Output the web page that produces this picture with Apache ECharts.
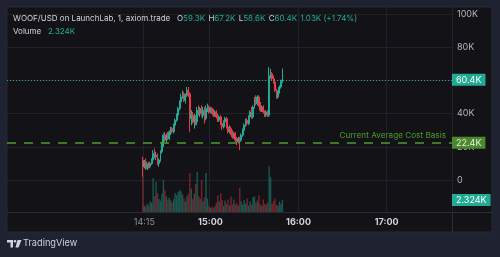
<!DOCTYPE html>
<html><head><meta charset="utf-8">
<script src="https://cdn.jsdelivr.net/npm/echarts@6/dist/echarts.min.js"></script>
<style>html,body{margin:0;padding:0;background:#1f2230;}#c{width:500px;height:257px;}</style>
</head><body><div id="c"></div>
<script>
// ---- data (prices and volumes in thousands of USD) ----
const symbolTitle = 'WOOF/USD on LaunchLab, 1, axiom.trade';
const axisStart = '12:42';          // first minute slot on the visible time scale
const axisSlots = 303;              // number of one-minute slots across the plot
const candleStart = '14:14';        // time of the first candle
const timeTicks = ['14:15', '15:00', '16:00', '17:00'];
const dimTicks = ['14:15'];
const priceMin = 0, priceMax = 100, priceStep = 20;
const avgCostBasis = 22.4;
const avgCostLabel = 'Current Average Cost Basis';

const candleOpen = [12,8,11,7,9,8,10,12,16,14, 15,10,12,17,22,27,24,27,25,29,
  31,29,33,36,39,43,47,50,52,48, 51,54,52,37,39,35,38,35,42,40,
  43,39,42,37,43,44,41,43,41,39, 41,38,36,38,34,32,35,37,32,29,
  31,28,26,28,24,23,25,24,27,30, 33,36,34,38,41,38,44,49,46,50,
  45,42,44,41,39,41,39,63,64,61, 59,54,50,53,56,59.33];
const candleClose = [8,11,7,9,8,10,12,16,14,15, 10,12,17,22,27,24,27,25,29,31,
  29,33,36,39,43,47,50,52,48,51, 54,52,37,39,35,38,35,42,40,43,
  39,42,37,43,44,41,43,41,39,41, 38,36,38,34,32,35,37,32,29,31,
  28,26,28,24,23,25,24,27,30,33, 36,34,38,41,38,44,49,46,50,45,
  42,44,41,39,41,39,63,64,61,59, 54,50,53,56,59.33,60.36];
const candleHigh = [14,12,13,10,11,11,13,18,19,17, 16,13,18,23,28,29,28,29,30,32,
  32,34,37,40,44,48,52,54,53,52, 56,56,53,42,41,40,39,44,45,44,
  45,44,44,45,46,45,44,44,43,42, 42,40,39,39,36,36,38,38,34,33,
  32,30,29,29,26,26,26,28,31,34, 37,37,39,42,44,45,50,51,51,51,
  47,45,45,42,42,42,68,67,65,63, 60,55,54,57,60,67.2];
const candleLow = [2,7,6,6,7,7,9,11,13,12, 9,8,11,16,20,23,22,24,24,27,
  28,28,32,35,38,42,45,49,47,46, 50,50,29,33,34,31,33,33,39,38,
  38,37,34,36,41,40,40,40,38,38, 37,35,35,33,30,31,34,31,28,28,
  27,25,25,23,21,22,18,23,26,29, 32,33,33,37,37,37,43,45,45,44,
  41,41,40,38,38,38,38,61,60,58, 53,49,49,52,55,58.6];
const volumes = [7.1,1.2,1.0,1.6,1.3,2.0,1.8,6.5,3.0,5.8, 3.6,2.5,2.2,3.5,6.1,4.2,3.0,2.4,2.8,2.2,
  1.8,2.5,3.6,3.2,3.8,4.2,4.0,3.4,2.6,2.0, 3.0,3.5,7.5,4.5,2.5,3.5,5.4,7.7,3.0,2.5,
  6.1,2.0,2.8,7.5,2.6,1.2,0.8,1.0,0.7,1.1, 1.8,3.2,2.0,3.6,2.3,1.2,2.2,1.6,2.4,1.3,
  3.0,1.5,2.4,1.4,1.8,1.2,4.6,2.0,1.4,2.3, 1.6,2.6,1.2,2.0,1.4,2.8,3.0,1.8,2.2,3.2,
  1.5,1.2,2.4,1.6,1.5,1.8,8.8,6.7,1.6,2.1, 2.6,1.4,1.2,2.0,1.6,2.324];

// ---- styling ----
const UP = '#22ab94', DOWN = '#f23645', GREEN = '#4e9a2c';
const FONT = 'Inter, "Liberation Sans", sans-serif';
const GRIDC = '#202229';

// ---- build axis categories and series data ----
const toMin = s => { const [h, m] = s.split(':').map(Number); return h * 60 + m; };
const toStr = m => String(Math.floor(m / 60)).padStart(2, '0') + ':' + String(m % 60).padStart(2, '0');
const categories = [];
for (let i = 0; i < axisSlots; i++) categories.push(toStr(toMin(axisStart) + i));
const first = categories.indexOf(candleStart);
const candleData = categories.map(() => '-');
const volumeData = categories.map(() => '-');
candleOpen.forEach((o, i) => {
  const c = candleClose[i];
  candleData[first + i] = [o, c, candleLow[i], candleHigh[i]];
  volumeData[first + i] = { value: volumes[i], itemStyle: { color: c >= o ? 'rgba(34,171,148,0.45)' : 'rgba(242,54,69,0.45)' } };
});
const n = candleOpen.length - 1;
const lastO = candleOpen[n], lastH = candleHigh[n], lastL = candleLow[n], lastC = candleClose[n];
const lastVol = volumes[n];
const k1 = v => v.toFixed(1) + 'K';
const chg = lastC - lastO;
const chgText = (chg >= 0 ? '' : '-') + Math.abs(chg).toFixed(2) + 'K (' + (chg >= 0 ? '+' : '') + (chg / lastO * 100).toFixed(2) + '%)';

const chart = echarts.init(document.getElementById('c'), null, { renderer: 'canvas' });
const tickSel = (idx, val) => timeTicks.indexOf(val) >= 0;
const hiddenX = gi => ({ type: 'category', gridIndex: gi, data: categories, show: false, boundaryGap: true });
const HF = 8;

chart.setOption({
  backgroundColor: '#1f2230',
  animation: false,
  textStyle: { fontFamily: FONT },
  grid: [
    { left: 7, width: 445, top: 14, height: 166 },
    { left: 7, width: 445, top: 160, height: 52 },
    { left: 7, width: 445, top: 7, height: 205 }
  ],
  xAxis: [
    hiddenX(0), hiddenX(1),
    { type: 'category', gridIndex: 2, data: categories, boundaryGap: true,
      axisLine: { show: false }, axisTick: { show: false },
      axisLabel: { interval: tickSel, margin: 6,
        formatter: v => dimTicks.indexOf(v) >= 0 ? '{a|' + v + '}' : '{b|' + v + '}',
        rich: { a: { color: '#8d909a', fontSize: 9, fontFamily: FONT },
                b: { color: '#d1d4dc', fontSize: 9, fontWeight: 'bold', fontFamily: FONT } } },
      splitLine: { show: true, interval: tickSel, lineStyle: { color: GRIDC, width: 1 } } }
  ],
  yAxis: [
    { type: 'value', gridIndex: 0, position: 'right', min: priceMin, max: priceMax, interval: priceStep,
      axisLine: { show: false }, axisTick: { show: false },
      axisLabel: { color: '#b2b5be', fontSize: 9, margin: 5, fontFamily: FONT, formatter: v => v === 0 ? '0' : v + 'K' },
      splitLine: { lineStyle: { color: GRIDC, width: 1 } } },
    { type: 'value', gridIndex: 1, min: 0, max: 10, show: false },
    { type: 'value', gridIndex: 2, show: false }
  ],
  series: [
    { type: 'candlestick', xAxisIndex: 0, yAxisIndex: 0, data: candleData, barWidth: 1.4,
      itemStyle: { color: UP, color0: DOWN, borderColor: UP, borderColor0: DOWN, borderWidth: 1 },
      markLine: { symbol: 'none', silent: true, animation: false,
        data: [
          { yAxis: lastC, lineStyle: { color: UP, type: [1, 2], width: 1 },
            label: { show: true, position: 'end', distance: 0, formatter: k1(lastC), backgroundColor: UP,
              color: '#ffffff', padding: [2, 4, 1, 4], fontSize: 9, fontFamily: FONT } },
          { yAxis: avgCostBasis, lineStyle: { color: GREEN, type: [9, 8], width: 1.5 },
            label: { show: true, position: 'end', distance: 0, formatter: k1(avgCostBasis), backgroundColor: '#4a8a2c',
              color: '#eaeaea', padding: [2, 4, 1, 4], fontSize: 9, fontFamily: FONT } },
          { yAxis: avgCostBasis, lineStyle: { color: 'rgba(0,0,0,0)', width: 1 },
            label: { show: true, position: 'insideEndTop', distance: [6, 3], formatter: avgCostLabel,
              color: GREEN, fontSize: 8.2, fontFamily: FONT } }
        ] } },
    { type: 'bar', xAxisIndex: 1, yAxisIndex: 1, data: volumeData, barWidth: 1.4,
      markLine: { symbol: 'none', silent: true, animation: false,
        data: [ { yAxis: lastVol, lineStyle: { color: 'rgba(0,0,0,0)', width: 1 },
          label: { show: true, position: 'end', distance: 0, formatter: lastVol.toFixed(3) + 'K', backgroundColor: UP,
            color: '#ffffff', padding: [2, 4, 1, 4], fontSize: 9, fontFamily: FONT } } ] } }
  ],
  graphic: [
    { type: 'rect', z: -10, silent: true, shape: { x: 7, y: 7, width: 485, height: 225 },
      style: { fill: '#131317', stroke: '#262a35', lineWidth: 1 } },
    { type: 'line', z: -5, silent: true, shape: { x1: 7, y1: 212.5, x2: 492, y2: 212.5 }, style: { stroke: '#2a2d36', lineWidth: 1 } },
    { type: 'line', z: -5, silent: true, shape: { x1: 452.5, y1: 7, x2: 452.5, y2: 232 }, style: { stroke: '#2a2d36', lineWidth: 1 } },
    { type: 'text', z: 20, left: 13, top: 12.5, silent: true,
      style: { text: '{t|' + symbolTitle + '}  {l|O}{v|' + k1(lastO) + '} {l|H}{v|' + k1(lastH) + '} {l|L}{v|' + k1(lastL) + '} {l|C}{v|' + k1(lastC) + '} {v|' + chgText + '}',
        rich: { t: { fill: '#d1d4dc', fontSize: HF, fontFamily: FONT }, l: { fill: '#d1d4dc', fontSize: HF, fontFamily: FONT },
                v: { fill: UP, fontSize: HF, fontFamily: FONT } } } },
    { type: 'text', z: 20, left: 13, top: 25.5, silent: true,
      style: { text: '{t|Volume}  {v|' + lastVol.toFixed(3) + 'K}',
        rich: { t: { fill: '#d1d4dc', fontSize: HF, fontFamily: FONT }, v: { fill: UP, fontSize: HF, fontFamily: FONT } } } },
    { type: 'rect', silent: true, shape: { x: 7, y: 240, width: 6, height: 2.5 }, style: { fill: '#d1d4dc' } },
    { type: 'rect', silent: true, shape: { x: 10.5, y: 240, width: 2.5, height: 7.5 }, style: { fill: '#d1d4dc' } },
    { type: 'circle', silent: true, shape: { cx: 15, cy: 241.3, r: 1.3 }, style: { fill: '#d1d4dc' } },
    { type: 'polygon', silent: true, shape: { points: [[17.5, 240], [21.5, 240], [18.5, 247.5], [15.5, 247.5]] }, style: { fill: '#d1d4dc' } },
    { type: 'text', silent: true, left: 23, top: 238.5, style: { text: 'TradingView', fill: '#d1d4dc', fontSize: 9.2, fontFamily: FONT } }
  ]
});
</script></body></html>
